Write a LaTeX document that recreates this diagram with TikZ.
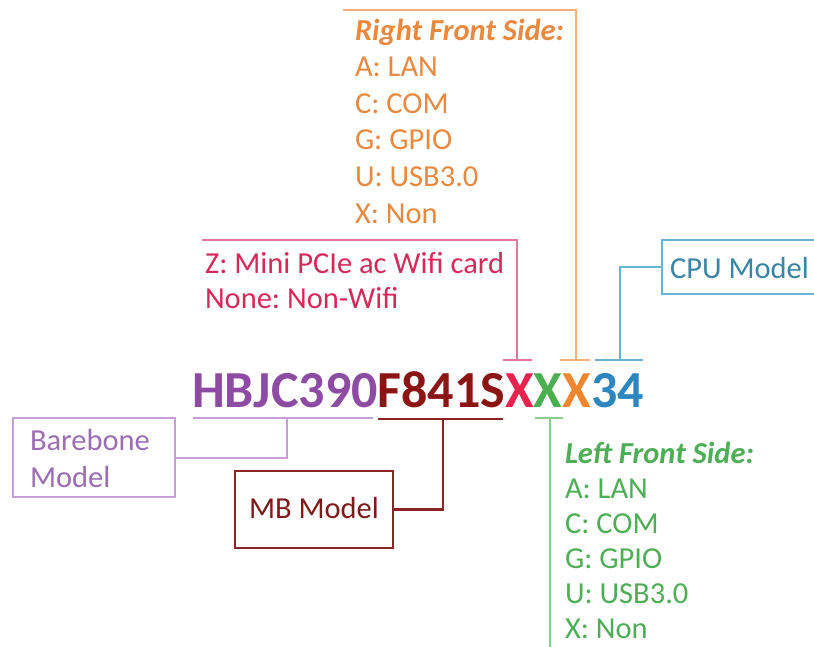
\documentclass[tikz,border=0pt]{standalone}
\usepackage{fontspec}
\setmainfont{Carlito}
\frenchspacing
\definecolor{cPur}{HTML}{8E4BA3}
\definecolor{cBrn}{HTML}{8B1414}
\definecolor{cRed}{HTML}{E8214D}
\definecolor{cGrn}{HTML}{4BAF50}
\definecolor{cOrg}{HTML}{F0862E}
\definecolor{cBlu}{HTML}{2C86C0}
\definecolor{tOrg}{HTML}{E8893F}
\definecolor{tRed}{HTML}{D42A5A}
\definecolor{tBlu}{HTML}{3A84A6}
\definecolor{tPur}{HTML}{9B6DB3}
\definecolor{tBrn}{HTML}{7D1A1A}
\definecolor{tGrn}{HTML}{4DAE56}
\definecolor{lRed}{HTML}{E07895}
\definecolor{lOrg}{HTML}{F4B07E}
\definecolor{lBlu}{HTML}{69B4CF}
\definecolor{lPur}{HTML}{C4A0D4}
\definecolor{lGrn}{HTML}{8ECB8E}
\definecolor{lBrn}{HTML}{8B2525}
\begin{document}
\begin{tikzpicture}[x=1pt,y=-1pt,
  seg/.style={inner sep=0pt, outer sep=0pt, anchor=base west, font=\fontsize{52}{60}\selectfont\bfseries},
  lbl/.style={inner sep=0pt, outer sep=0pt, anchor=base west, font=\fontsize{30.5}{36}\selectfont},
  ttl/.style={lbl, font=\fontsize{30.5}{36}\selectfont\bfseries\itshape},
  conn/.style={line width=2pt},
  boxe/.style={inner sep=0pt, outer sep=0pt, anchor=north west}]
\useasboundingbox (0,0) rectangle (814,646);

% main code
\node[seg,text=cPur] (n1) at (192,407) {HBJC390};
\node[seg,text=cBrn] (n2) at (n1.base east) {F841S};
\node[seg,text=cRed] (n3) at (n2.base east) {X};
\node[seg,text=cGrn] (n4) at (n3.base east) {X};
\node[seg,text=cOrg] (n5) at (n4.base east) {X};
\node[seg,text=cBlu] (n6) at (n5.base east) {34};

% right front side
\node[ttl,text=tOrg] (r0) at (355,40) {Right Front Side:};
\node[lbl,text=tOrg] (r1) at (355,76.6) {A: LAN};
\node[lbl,text=tOrg] (r2) at (355,113.2) {C: COM};
\node[lbl,text=tOrg] (r3) at (355,149.8) {G: GPIO};
\node[lbl,text=tOrg] (r4) at (355,186.4) {U: USB3.0};
\node[lbl,text=tOrg] (r5) at (355,223) {X: Non};

% left front side
\node[ttl,text=tGrn] (l0) at (565,463) {Left Front Side:};
\node[lbl,text=tGrn] (l1) at (565,498) {A: LAN};
\node[lbl,text=tGrn] (l2) at (565,533) {C: COM};
\node[lbl,text=tGrn] (l3) at (565,568) {G: GPIO};
\node[lbl,text=tGrn] (l4) at (565,603) {U: USB3.0};
\node[lbl,text=tGrn] (l5) at (565,638) {X: Non};

% wifi
\node[lbl,text=tRed] (z1) at (205,273) {Z: Mini PCIe ac Wifi card};
\node[lbl,text=tRed] (z2) at (205,308) {None: Non-Wifi};

% CPU
\node[boxe, minimum width=160pt, minimum height=54pt] (cpu) at (662,240) {};
\draw[conn,lBlu] (cpu.north east) -- (cpu.north west) -- (cpu.south west) -- (cpu.south east);
\node[lbl,text=tBlu] (cput) at (670,278) {CPU Model};

% Barebone
\node[boxe, draw=lPur, line width=2pt, minimum width=162pt, minimum height=79pt] (bb) at (13,418) {};
\node[lbl,text=tPur] (bb1) at (30,450) {Barebone};
\node[lbl,text=tPur] (bb2) at (30,487) {Model};

% MB
\node[boxe, draw=lBrn, line width=2.5pt, minimum width=158pt, minimum height=77pt] (mb) at (235,471) {};
\node[lbl,text=tBrn] (mbt) at (249,518) {MB Model};

% coordinates
\coordinate (redT) at (517,360);
\coordinate (redL) at (202,240);
\coordinate (orgT) at (576,360);
\coordinate (orgL) at (343,10);
\coordinate (bluT) at (620,360);
\coordinate (purU) at (287,418);
\coordinate (brnU) at (443,419);
\coordinate (grnU) at (550,418);
\coordinate (grnE) at (550,650);

% connectors
\draw[conn,lRed] (redL) -| (redT);
\draw[conn,lRed] (503,360) -- (532,360);
\draw[conn,lOrg] (orgL) -| (orgT);
\draw[conn,lOrg] (560,360) -- (590,360);
\draw[conn,lBlu] (cpu.west) -| (bluT);
\draw[conn,lBlu] (595,360) -- (643,360);
\draw[conn,lGrn] (535,418) -- (563,418);
\draw[conn,lGrn] (grnU) -- (grnE);
\draw[conn,lPur] (193,418) -- (373,418);
\draw[conn,lPur] (purU) |- (bb.east);
\draw[line width=2.5pt,lBrn] (378,419) -- (503,419);
\draw[line width=2.5pt,lBrn] (brnU) |- (mb.east);
\end{tikzpicture}
\end{document}
